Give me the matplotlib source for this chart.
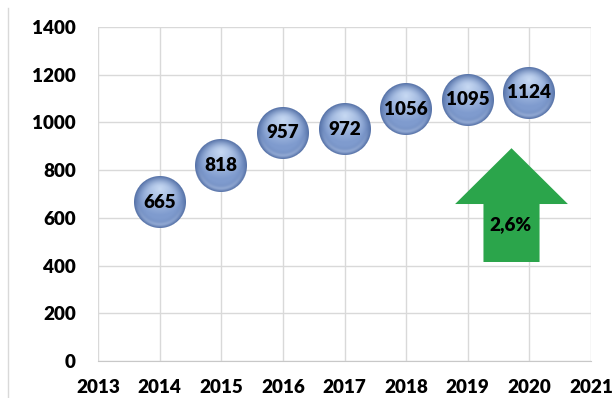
import numpy as np
import matplotlib
matplotlib.use("Agg")
import matplotlib.pyplot as plt
from matplotlib.offsetbox import OffsetImage, AnnotationBbox
from matplotlib.patches import FancyArrow
from matplotlib.lines import Line2D

# Data
years = [2014, 2015, 2016, 2017, 2018, 2019, 2020]
values = [665, 818, 957, 972, 1056, 1095, 1124]
growth_label = "2,6%"
x_ticks = list(range(2013, 2022))
y_ticks = list(range(0, 1401, 200))

plt.rcParams['font.family'] = ['Lato', 'DejaVu Sans']
WEIGHT = 'heavy'
FS = 13.6


def sphere_image(n=52):
    # shaded blue ball, highlight near the top, darker rim
    yy, xx = np.mgrid[0:n, 0:n]
    c = (n - 1) / 2.0
    u = (xx - c) / (n / 2.0)
    v = (yy - c) / (n / 2.0)
    r = np.sqrt(u ** 2 + v ** 2)

    light = np.array([0.78, 0.85, 0.95])
    base = np.array([0.50, 0.61, 0.81])
    dark = np.array([0.33, 0.44, 0.65])

    d = np.sqrt(u ** 2 + (v + 0.5) ** 2)
    t = np.clip(d / 1.0, 0, 1)[..., None]
    col = light * (1 - t) + base * t
    edge = np.clip((r - 0.6) / 0.4, 0, 1)[..., None] ** 1.8
    col = col * (1 - edge) + dark * edge
    # faint reflection along the lower rim
    refl = np.exp(-((r - 0.86) / 0.08) ** 2) * np.clip(v, 0, 1)
    col = col + (np.array([0.74, 0.81, 0.93]) - col) * (0.5 * refl)[..., None]

    alpha = np.clip((1.0 - r) * n / 2.0 + 0.5, 0, 1)
    img = np.dstack([np.clip(col, 0, 1), alpha])
    return img


fig = plt.figure(figsize=(6.14, 3.98), dpi=100)
ax = fig.add_axes([98 / 614, 1 - 361 / 398, 493 / 614, 334 / 398])

ax.set_xlim(2013, 2021)
ax.set_ylim(0, 1400)
ax.set_xticks(x_ticks)
ax.set_yticks(y_ticks)
ax.grid(True, color='#d9d9d9', linewidth=1.0)
ax.set_axisbelow(True)
for side in ['top', 'left', 'right']:
    ax.spines[side].set_visible(False)
ax.spines['bottom'].set_color('#c8c8c8')
ax.tick_params(length=0, labelsize=FS)
ax.tick_params(axis='y', pad=16)
ax.tick_params(axis='x', pad=13)
for lab in ax.get_xticklabels() + ax.get_yticklabels():
    lab.set_fontweight(WEIGHT)

ball = sphere_image(52)
for x, v in zip(years, values):
    ab = AnnotationBbox(OffsetImage(ball, zoom=1, dpi_cor=False), (x, v),
                        frameon=False, pad=0, zorder=3)
    ax.add_artist(ab)
    ax.text(x, v, str(v), ha='center', va='center', fontsize=FS,
            fontweight=WEIGHT, color='black', zorder=5)

# growth arrow
arrow = FancyArrow(2019.71, 415, 0, 477, width=0.91, head_width=1.83,
                   head_length=234, length_includes_head=True,
                   color='#2ba54b', linewidth=0, zorder=4)
ax.add_patch(arrow)
ax.text(2019.69, 570, growth_label, ha='center', va='center', fontsize=FS,
        fontweight=WEIGHT, color='black', zorder=5)

fig.add_artist(Line2D([8 / 614, 8 / 614], [0, 1 - 8 / 398],
                      transform=fig.transFigure, color='#d9d9d9', linewidth=1))

fig.savefig('out.png', dpi=100)
